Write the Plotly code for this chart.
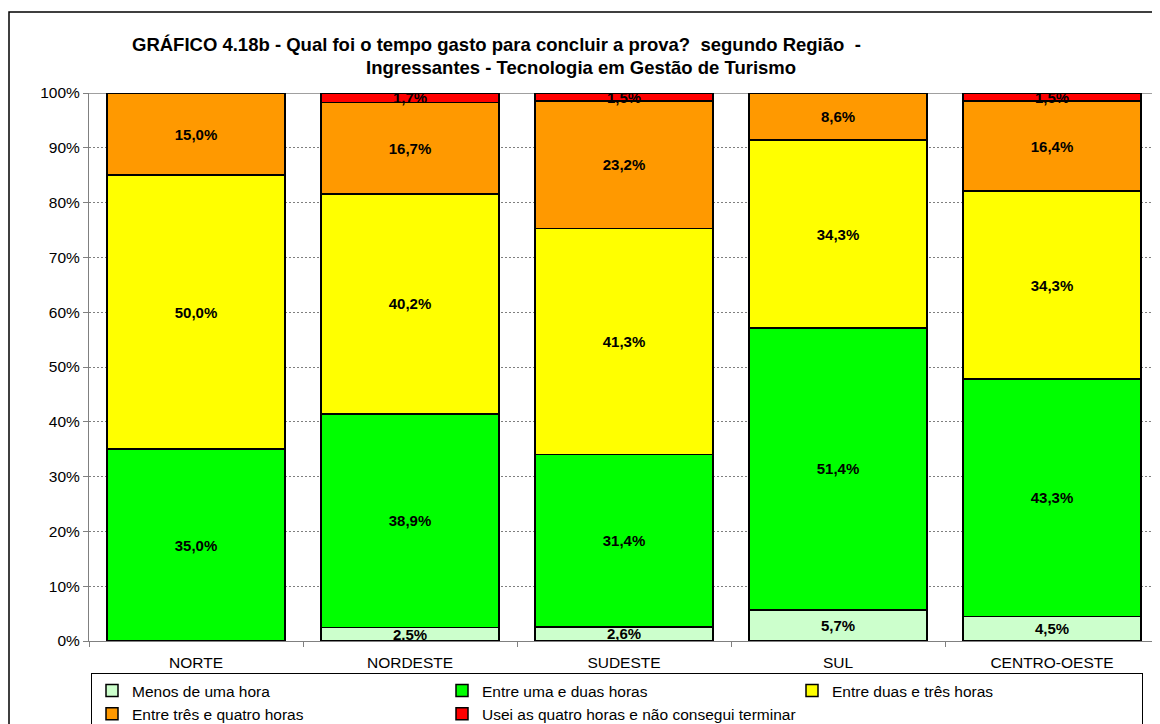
import plotly.graph_objects as go

regioes = ["NORTE", "NORDESTE", "SUDESTE", "SUL", "CENTRO-OESTE"]

menos_uma = [0.0, 2.5, 2.6, 5.7, 4.5]
uma_duas = [35.0, 38.9, 31.4, 51.4, 43.3]
duas_tres = [50.0, 40.2, 41.3, 34.3, 34.3]
tres_quatro = [15.0, 16.7, 23.2, 8.6, 16.4]
nao_terminou = [0.0, 1.7, 1.5, 0.0, 1.5]

series = [
    ("Menos de uma hora", menos_uma, "#CCFFCC"),
    ("Entre uma e duas horas", uma_duas, "#00FF00"),
    ("Entre duas e três horas", duas_tres, "#FFFF00"),
    ("Entre três e quatro horas", tres_quatro, "#FF9900"),
    ("Usei as quatro horas e não consegui terminar", nao_terminou, "#FF0000"),
]

FONT = "Liberation Sans, Arial, sans-serif"

fig = go.Figure()
for name, vals, color in series:
    labels = [f"{v:.1f}%".replace(".", ",") if v > 0 else "" for v in vals]
    fig.add_trace(go.Bar(
        x=regioes, y=vals, name=name,
        marker=dict(color=color, line=dict(color="black", width=1.5)),
        text=labels, textposition="inside", insidetextanchor="middle",
        textangle=0,
        textfont=dict(family=FONT, size=15, color="black", weight="bold"),
        hoverinfo="skip",
    ))

# page has an 8px body margin; positions below are page pixels
OFF = 8
PL, PT, PR, PB = 89, 93, 1159, 641
W, H = PR - PL, PB - PT


def px_x(px):
    return (px - PL) / W


def px_y(py):
    return (PB - py) / H


fig.update_layout(
    width=1160, height=724,
    barmode="stack", bargap=0.17,
    plot_bgcolor="white", paper_bgcolor="white",
    font=dict(family=FONT, size=15.5, color="black"),
    margin=dict(l=PL - OFF, r=1160 - (PR - OFF), t=PT - OFF, b=724 - (PB - OFF),
                autoexpand=False),
    uniformtext=dict(minsize=15, mode="show"),
    showlegend=True,
    legend=dict(
        orientation="h", x=px_x(91), y=px_y(673), xanchor="left", yanchor="top",
        bordercolor="black", borderwidth=1, bgcolor="white",
        font=dict(family=FONT, size=15.5, color="black"),
        entrywidth=305, entrywidthmode="pixels",
        traceorder="normal", itemclick=False,
    ),
    xaxis=dict(
        showline=True, linecolor="#808080", linewidth=1,
        ticks="outside", tickson="boundaries", ticklen=5, tickcolor="#808080",
        tickfont=dict(family=FONT, size=15.5), ticklabelstandoff=7,
        showgrid=False, range=[-0.5, 4.5],
    ),
    yaxis=dict(
        range=[0, 100], dtick=10, ticksuffix="%",
        showline=True, linecolor="#808080", linewidth=1,
        ticks="outside", ticklen=5, tickcolor="#808080",
        showgrid=True, gridcolor="#7F7F7F", griddash="2px,2px", gridwidth=1,
        tickfont=dict(family=FONT, size=15.5),
        zeroline=False,
    ),
    annotations=[
        dict(text="<b>GRÁFICO 4.18b - Qual foi o tempo gasto para concluir a prova?  segundo Região  -</b>",
             xref="paper", yref="paper", x=px_x(496), y=px_y(44), xanchor="center", yanchor="middle",
             showarrow=False, font=dict(family=FONT, size=18.5, color="black")),
        dict(text="<b>Ingressantes - Tecnologia em Gestão de Turismo</b>",
             xref="paper", yref="paper", x=px_x(581), y=px_y(68), xanchor="center", yanchor="middle",
             showarrow=False, font=dict(family=FONT, size=18.5, color="black")),
    ],
    shapes=[
        dict(type="rect", xref="paper", yref="paper", x0=px_x(9), x1=px_x(1175),
             y0=px_y(745), y1=px_y(12), line=dict(color="black", width=1.5), layer="below"),
        dict(type="line", xref="paper", yref="y", x0=0, x1=1, y0=100, y1=100,
             line=dict(color="#808080", width=1.5), layer="below"),
    ],
)

fig.write_html("out.html")
